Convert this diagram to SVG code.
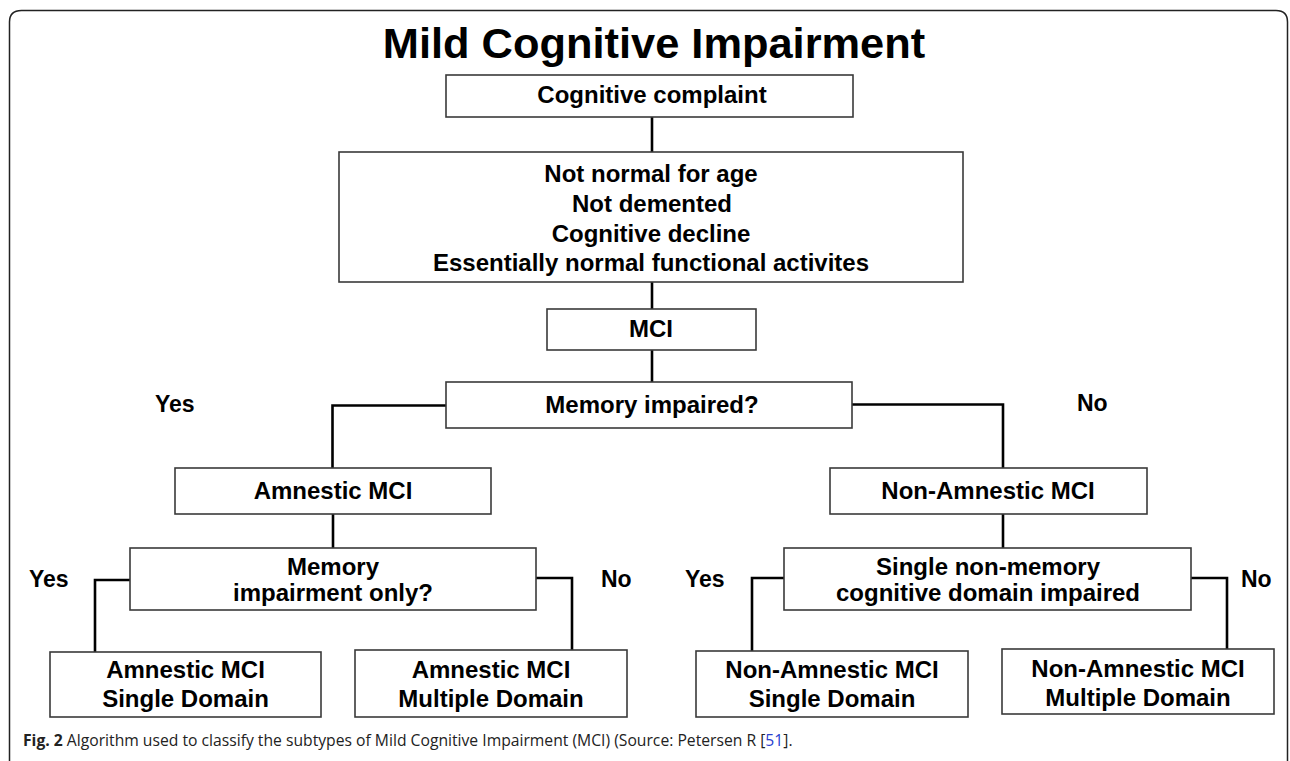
<svg xmlns="http://www.w3.org/2000/svg" width="1290" height="761" viewBox="0 0 1290 761">
<style>
.box{fill:#fff;stroke:#3a3a3a;stroke-width:1.6}
.t{font-family:"Liberation Sans",Arial,sans-serif;font-weight:bold;font-size:24px;fill:#000;text-anchor:middle}
.lbl{font-family:"Liberation Sans",Arial,sans-serif;font-weight:bold;font-size:23px;fill:#000}
.c{fill:none;stroke:#000;stroke-width:2.6}
.cap{font-family:"Open Sans","Noto Sans",sans-serif;font-size:15.7px;fill:#222}
</style>
<rect width="1290" height="761" fill="#fff"/>
<path d="M9.5,770 V22 Q9.5,10.5 21.5,10.5 H1276 Q1287.5,10.5 1287.5,22 V770" fill="none" stroke="#222" stroke-width="1.5"/>
<text x="654" y="58" font-family="Liberation Sans,Arial,sans-serif" font-weight="bold" font-size="43.4" text-anchor="middle" fill="#000">Mild Cognitive Impairment</text>

<g id="connectors">
<path class="c" d="M652,117 V153"/>
<path class="c" d="M652,282 V309"/>
<path class="c" d="M652,350 V382"/>
<path class="c" d="M446,405.5 H332.5 V468"/>
<path class="c" d="M852,404.5 H1003 V468"/>
<path class="c" d="M333,514 V548"/>
<path class="c" d="M1003,514 V548"/>
<path class="c" d="M130,580 H95 V652"/>
<path class="c" d="M536,578 H572 V650"/>
<path class="c" d="M784,578 H752 V651"/>
<path class="c" d="M1191,578 H1227 V649"/>
</g>

<g id="n-complaint"><rect class="box" x="446" y="75" width="407" height="42"/><text class="t" x="652" y="103">Cognitive complaint</text></g>
<g id="n-criteria"><rect class="box" x="339" y="152" width="624" height="130"/>
<text class="t" x="651" y="182">Not normal for age</text>
<text class="t" x="652" y="212">Not demented</text>
<text class="t" x="651" y="242">Cognitive decline</text>
<text class="t" x="651" y="271">Essentially normal functional activites</text></g>
<g id="n-mci"><rect class="box" x="547" y="309" width="209" height="41"/><text class="t" x="651" y="337">MCI</text></g>
<g id="n-memory"><rect class="box" x="446" y="382" width="406" height="46"/><text class="t" x="652" y="413">Memory impaired?</text></g>
<g id="l-yes1"><text class="lbl" x="155" y="412">Yes</text></g>
<g id="l-no1"><text class="lbl" x="1077" y="411">No</text></g>
<g id="n-amnestic"><rect class="box" x="175" y="468" width="316" height="46"/><text class="t" x="333" y="499">Amnestic MCI</text></g>
<g id="n-nonamnestic"><rect class="box" x="830" y="468" width="317" height="46"/><text class="t" x="988" y="499">Non-Amnestic MCI</text></g>
<g id="n-memonly"><rect class="box" x="130" y="548" width="406" height="62"/><text class="t" x="333" y="575">Memory</text><text class="t" x="333" y="601">impairment only?</text></g>
<g id="n-single"><rect class="box" x="784" y="548" width="407" height="62"/><text class="t" x="988" y="575">Single non-memory</text><text class="t" x="988" y="601">cognitive domain impaired</text></g>
<g id="l-yes2"><text class="lbl" x="29" y="587">Yes</text></g>
<g id="l-no2"><text class="lbl" x="601" y="587">No</text></g>
<g id="l-yes3"><text class="lbl" x="685" y="587">Yes</text></g>
<g id="l-no3"><text class="lbl" x="1241" y="587">No</text></g>
<g id="n-amsd"><rect class="box" x="50" y="652" width="271" height="65"/><text class="t" x="185.5" y="678">Amnestic MCI</text><text class="t" x="185.5" y="707">Single Domain</text></g>
<g id="n-ammd"><rect class="box" x="355" y="650" width="272" height="67"/><text class="t" x="491" y="678">Amnestic MCI</text><text class="t" x="491" y="707">Multiple Domain</text></g>
<g id="n-nasd"><rect class="box" x="696" y="651" width="272" height="66"/><text class="t" x="832" y="678">Non-Amnestic MCI</text><text class="t" x="832" y="707">Single Domain</text></g>
<g id="n-namd"><rect class="box" x="1002" y="649" width="272" height="65"/><text class="t" x="1138" y="677">Non-Amnestic MCI</text><text class="t" x="1138" y="706">Multiple Domain</text></g>

<g id="caption">
<text class="cap" x="23" y="746"><tspan font-weight="bold">Fig. 2</tspan> Algorithm used to classify the subtypes of Mild Cognitive Impairment (MCI) (Source: Petersen R [<tspan style="fill:#2a3fd0">51</tspan>].</text>
</g>
</svg>
